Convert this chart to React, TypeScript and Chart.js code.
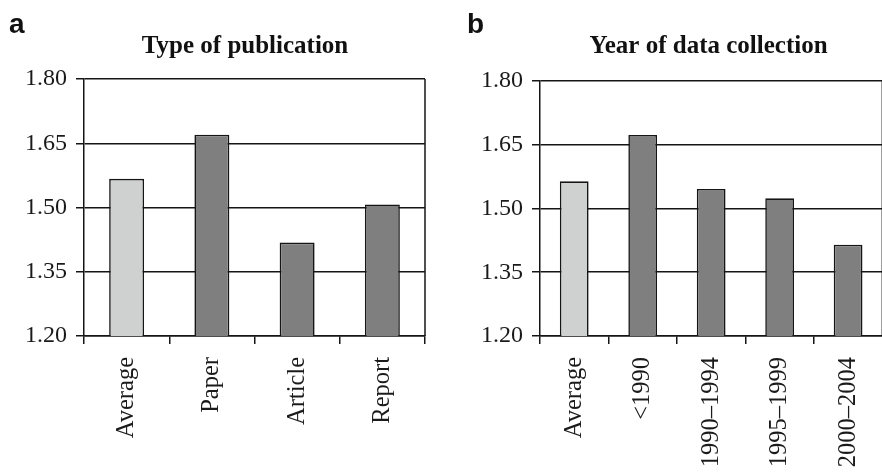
import { useEffect, useRef } from 'react';
import { Chart, registerables } from 'chart.js';

Chart.register(...registerables);

// Panel a: type of publication
const PUB_LABELS = ['Average', 'Paper', 'Article', 'Report'];
const PUB_VALUES = [1.567, 1.67, 1.418, 1.507];

// Panel b: year of data collection
const YEAR_LABELS = ['Average', '<1990', '1990–1994', '1995–1999', '2000–2004'];
const YEAR_VALUES = [1.564, 1.673, 1.546, 1.524, 1.415];

// Shared value axis
const Y_TICKS = [1.2, 1.35, 1.5, 1.65, 1.8];

const AVERAGE_FILL = '#cfd1d0';
const GROUP_FILL = '#7f7f7f';
const INK = '#151515';
const SERIF = '"Liberation Serif", "Times New Roman", serif';
const SANS = '"Liberation Sans", Arial, sans-serif';

type PanelProps = {
  letter: string;
  title: string;
  labels: string[];
  values: number[];
  left: number;
  width: number;
  padTop: number;
  padRight: number;
  axisWidth: number;
  letterX: number;
  titleX: number;
  barPct: number;
};

// Draws the panel letter, the bold heading and the right frame edge.
const headingPlugin = {
  id: 'panelHeading',
  afterDraw(chart: any, _args: any, opts: any) {
    const { ctx, chartArea } = chart;
    ctx.save();
    ctx.fillStyle = '#111';
    ctx.textBaseline = 'alphabetic';
    ctx.textAlign = 'left';
    ctx.font = `bold 28px ${SANS}`;
    ctx.fillText(opts.letter, opts.letterX, 33);
    ctx.textAlign = 'center';
    ctx.font = `bold 25px ${SERIF}`;
    ctx.fillText(opts.title, opts.titleX, 53);
    ctx.strokeStyle = INK;
    ctx.lineWidth = 1.5;
    ctx.beginPath();
    ctx.moveTo(chartArea.right, chartArea.top);
    ctx.lineTo(chartArea.right, chartArea.bottom);
    ctx.stroke();
    ctx.restore();
  },
};

function Panel(p: PanelProps) {
  const ref = useRef<HTMLCanvasElement>(null);
  useEffect(() => {
    if (!ref.current) return;
    const chart = new Chart(ref.current, {
      type: 'bar',
      data: {
        labels: p.labels,
        datasets: [
          {
            data: p.values,
            backgroundColor: p.values.map((_, i) => (i === 0 ? AVERAGE_FILL : GROUP_FILL)),
            borderColor: INK,
            borderWidth: 1.6,
            categoryPercentage: 1,
            barPercentage: p.barPct,
          },
        ],
      },
      options: {
        animation: false,
        responsive: false,
        devicePixelRatio: 1,
        layout: { padding: { top: p.padTop, right: p.padRight, left: 0, bottom: 0 } },
        plugins: {
          legend: { display: false },
          tooltip: { enabled: false },
          title: { display: false },
          panelHeading: { letter: p.letter, title: p.title, letterX: p.letterX, titleX: p.titleX },
        } as any,
        scales: {
          x: {
            offset: true,
            grid: {
              offset: true,
              drawOnChartArea: false,
              drawTicks: true,
              tickLength: 8,
              color: INK,
              lineWidth: 1.5,
            },
            border: { display: true, color: INK, width: 1.5 },
            ticks: {
              autoSkip: false,
              minRotation: 90,
              maxRotation: 90,
              padding: 13,
              color: '#1a1a1a',
              font: { family: SERIF, size: 24.5 },
            },
            afterFit(scale: any) {
              scale.height = 137;
            },
          },
          y: {
            min: 1.2,
            max: 1.8,
            afterBuildTicks(scale: any) {
              scale.ticks = Y_TICKS.map((v) => ({ value: v }));
            },
            grid: {
              drawTicks: true,
              tickLength: 8,
              color: INK,
              lineWidth: 1.5,
            },
            border: { display: true, color: INK, width: 1.5 },
            ticks: {
              padding: 9,
              color: '#1a1a1a',
              font: { family: SERIF, size: 24 },
              callback: (v: any) => Number(v).toFixed(2),
            },
            afterFit(scale: any) {
              scale.width = p.axisWidth;
            },
          },
        },
      },
      plugins: [headingPlugin],
    });
    return () => chart.destroy();
  }, []);
  return (
    <canvas
      ref={ref}
      width={p.width}
      height={473}
      style={{ position: 'absolute', left: p.left, top: 0, width: p.width, height: 473 }}
    />
  );
}

export default function App() {
  return (
    <div
      style={{
        position: 'fixed',
        left: 0,
        top: 0,
        width: 882,
        height: 473,
        overflow: 'hidden',
        background: '#fff',
      }}
    >
      <Panel
        letter="a"
        title="Type of publication"
        labels={PUB_LABELS}
        values={PUB_VALUES}
        left={0}
        width={441}
        padTop={79}
        padRight={16}
        axisWidth={84}
        letterX={9}
        titleX={245}
        barPct={0.41}
      />
      <Panel
        letter="b"
        title="Year of data collection"
        labels={YEAR_LABELS}
        values={YEAR_VALUES}
        left={441}
        width={450}
        padTop={81}
        padRight={5}
        axisWidth={99}
        letterX={26}
        titleX={267.5}
        barPct={0.42}
      />
    </div>
  );
}
